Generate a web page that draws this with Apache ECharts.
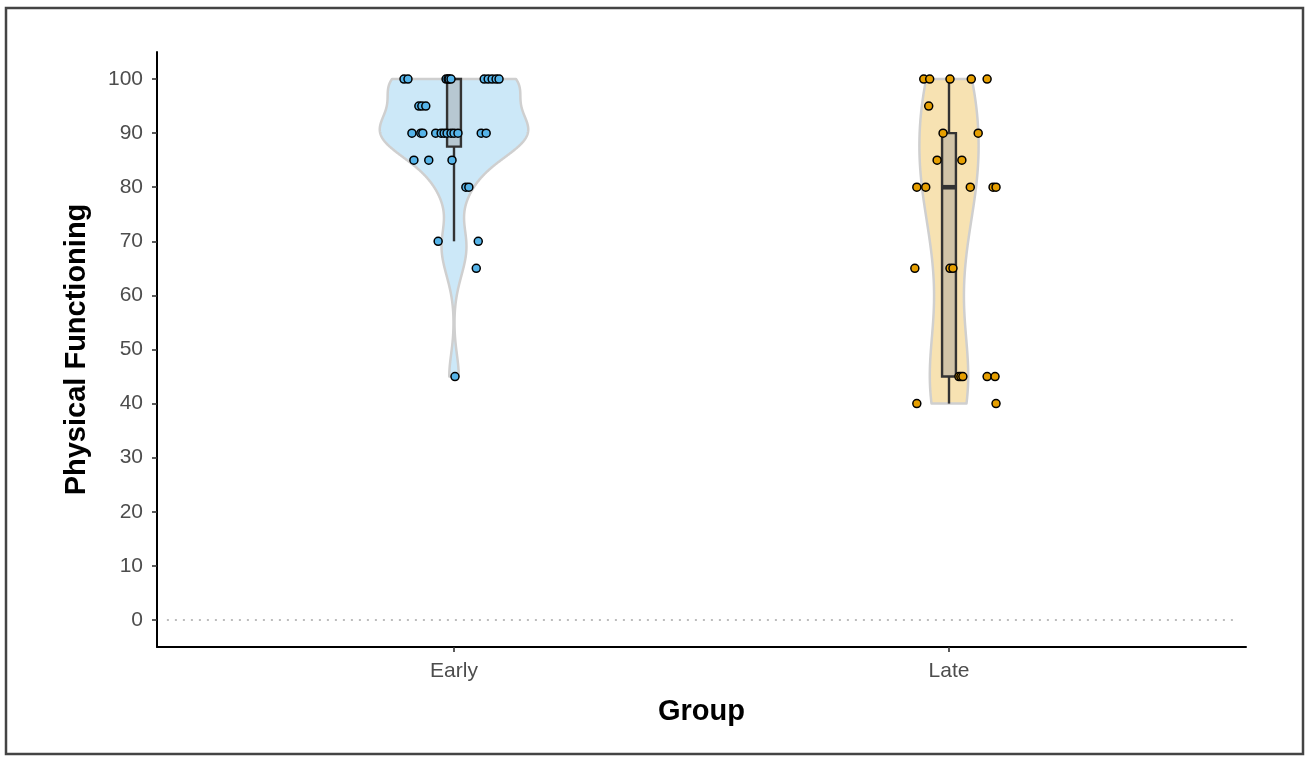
<!DOCTYPE html>
<html>
<head>
<meta charset="utf-8">
<title>Physical Functioning by Group</title>
<script src="https://cdn.jsdelivr.net/npm/echarts@6/dist/echarts.min.js"></script>
<style>
  html, body { margin: 0; padding: 0; background: #ffffff; }
  #chart { width: 1309px; height: 760px; }
</style>
</head>
<body>
<div id="chart"></div>
<script>
// ---- data ----
const categories = ['Early', 'Late'];

// Physical Functioning scores per patient, with the horizontal jitter used to spread the dots
const earlyValues = [
  100, 100, 100, 100, 100, 100, 100, 100, 100, 100, 100,
  95, 95, 95,
  90, 90, 90, 90, 90, 90, 90, 90, 90, 90, 90, 90,
  85, 85, 85,
  80, 80,
  70, 70,
  65,
  45
];
const earlyJitter = [
  -0.101, -0.093, -0.016, -0.012, -0.010, -0.006, 0.061, 0.069, 0.077, 0.085, 0.091,
  -0.071, -0.065, -0.057,
  -0.085, -0.067, -0.063, -0.037, -0.026, -0.020, -0.014, -0.006, 0.000, 0.008, 0.055, 0.065,
  -0.081, -0.051, -0.004,
  0.024, 0.030,
  -0.032, 0.049,
  0.045,
  0.002
];
const lateValues = [
  100, 100, 100, 100, 100,
  95,
  90, 90,
  85, 85,
  80, 80, 80, 80, 80,
  65, 65, 65,
  45, 45, 45, 45, 45,
  40, 40
];
const lateJitter = [
  -0.051, -0.039, 0.002, 0.045, 0.077,
  -0.041,
  -0.012, 0.059,
  -0.024, 0.026,
  -0.065, -0.047, 0.043, 0.089, 0.095,
  -0.069, 0.002, 0.008,
  0.020, 0.024, 0.028, 0.077, 0.093,
  -0.065, 0.095
];
const yTicks = [0, 10, 20, 30, 40, 50, 60, 70, 80, 90, 100];
const referenceLine = 0;

// ---- styling ----
const pointColors = ['#56B4E9', '#E69F00'];
const violinFills = ['rgba(86,180,233,0.3)', 'rgba(230,159,0,0.3)'];
const VIOLIN_WIDTH = 0.3;   // full width of the widest violin, in category units
const BOX_WIDTH = 0.028;
const FONT = 'Liberation Sans';

// ---- statistics (type-7 quantiles, nrd0 bandwidth, gaussian kernel) ----
function quantile(sorted, p) {
  const h = (sorted.length - 1) * p;
  const lo = Math.floor(h), hi = Math.ceil(h);
  return sorted[lo] + (h - lo) * (sorted[hi] - sorted[lo]);
}
function boxStats(values) {
  const s = values.slice().sort((a, b) => a - b);
  const q1 = quantile(s, 0.25), med = quantile(s, 0.5), q3 = quantile(s, 0.75);
  const iqr = q3 - q1;
  const lowFence = q1 - 1.5 * iqr, highFence = q3 + 1.5 * iqr;
  const inside = s.filter(v => v >= lowFence && v <= highFence);
  return { low: inside[0], q1, med, q3, high: inside[inside.length - 1] };
}
function bandwidth(values) {
  const n = values.length;
  const mean = values.reduce((a, b) => a + b, 0) / n;
  const sd = Math.sqrt(values.reduce((a, v) => a + (v - mean) * (v - mean), 0) / (n - 1));
  const s = values.slice().sort((a, b) => a - b);
  const iqr = quantile(s, 0.75) - quantile(s, 0.25);
  let lo = Math.min(sd, iqr / 1.34);
  if (!(lo > 0)) lo = sd || Math.abs(s[0]) || 1;
  return 0.9 * lo * Math.pow(n, -0.2);
}
function density(values, steps) {
  const bw = bandwidth(values);
  const n = values.length;
  const min = Math.min(...values), max = Math.max(...values);
  const norm = 1 / (n * bw * Math.sqrt(2 * Math.PI));
  const out = [];
  for (let i = 0; i < steps; i++) {
    const y = min + (max - min) * i / (steps - 1);
    let d = 0;
    for (const v of values) { const z = (y - v) / bw; d += Math.exp(-0.5 * z * z); }
    out.push([y, d * norm]);
  }
  return out;
}

const groups = [earlyValues, lateValues];
const jitters = [earlyJitter, lateJitter];
const densities = groups.map(g => density(g, 512));
const maxDensity = Math.max(...densities.map(d => Math.max(...d.map(p => p[1]))));
const boxes = groups.map(boxStats);

// ---- chart ----
const chart = echarts.init(document.getElementById('chart'), null, { renderer: 'canvas' });

const violinSeries = {
  type: 'custom',
  name: 'violin',
  data: categories.map((c, i) => [i + 1]),
  renderItem: function (params, api) {
    const i = params.dataIndex;
    const cx = i + 1;
    const d = densities[i];
    const pts = [];
    for (const [y, v] of d) pts.push(api.coord([cx - v / maxDensity * VIOLIN_WIDTH / 2, y]));
    for (let k = d.length - 1; k >= 0; k--) {
      const [y, v] = d[k];
      pts.push(api.coord([cx + v / maxDensity * VIOLIN_WIDTH / 2, y]));
    }
    return {
      type: 'polygon',
      shape: { points: pts },
      style: { fill: violinFills[i], stroke: '#cfcfcf', lineWidth: 2.5, lineJoin: 'round' }
    };
  },
  z: 2,
  silent: true
};

const boxSeries = {
  type: 'custom',
  name: 'box',
  data: categories.map((c, i) => [i + 1]),
  renderItem: function (params, api) {
    const i = params.dataIndex;
    const cx = i + 1;
    const b = boxes[i];
    const hw = BOX_WIDTH / 2;
    const tl = api.coord([cx - hw, b.q3]);
    const br = api.coord([cx + hw, b.q1]);
    const top = api.coord([cx, b.high]);
    const bottom = api.coord([cx, b.low]);
    const mL = api.coord([cx - hw, b.med]);
    const mR = api.coord([cx + hw, b.med]);
    const lineStyle = { stroke: '#333333', lineWidth: 2.4 };
    return {
      type: 'group',
      children: [
        { type: 'line', shape: { x1: top[0], y1: top[1], x2: top[0], y2: tl[1] }, style: lineStyle },
        { type: 'line', shape: { x1: bottom[0], y1: br[1], x2: bottom[0], y2: bottom[1] }, style: lineStyle },
        { type: 'rect', shape: { x: tl[0], y: tl[1], width: br[0] - tl[0], height: br[1] - tl[1] },
          style: { fill: 'rgba(153,153,153,0.4)', stroke: '#333333', lineWidth: 2.4 } },
        { type: 'line', shape: { x1: mL[0], y1: mL[1], x2: mR[0], y2: mR[1] },
          style: { stroke: '#333333', lineWidth: 4.6 } }
      ]
    };
  },
  z: 3,
  silent: true
};

const pointSeries = groups.map((g, i) => ({
  type: 'scatter',
  name: categories[i],
  data: g.map((v, k) => [i + 1 + jitters[i][k], v]),
  symbol: 'circle',
  symbolSize: 8,
  itemStyle: { color: pointColors[i], borderColor: '#000000', borderWidth: 1.5, opacity: 1 },
  z: 4,
  silent: true
}));

const zeroLine = {
  type: 'line',
  name: 'reference',
  data: [[0.42, referenceLine], [2.58, referenceLine]],
  symbol: 'none',
  lineStyle: { color: '#bdbdbd', width: 2, type: [2, 6] },
  z: 1,
  silent: true
};

const option = {
  animation: false,
  backgroundColor: '#ffffff',
  grid: { left: 157, right: 63, top: 52, bottom: 113, containLabel: false },
  xAxis: {
    type: 'value',
    min: 0.4,
    max: 2.6,
    name: 'Group',
    nameLocation: 'middle',
    nameGap: 50,
    nameTextStyle: { fontFamily: FONT, fontWeight: 'bold', fontSize: 29, color: '#000000' },
    axisLine: { show: true, onZero: false, lineStyle: { color: '#000000', width: 2 } },
    axisTick: { show: true, length: 5, customValues: [1, 2], lineStyle: { color: '#333333', width: 1.6 } },
    axisLabel: {
      customValues: [1, 2],
      formatter: v => categories[Math.round(v) - 1] || '',
      margin: 14,
      fontFamily: FONT,
      fontSize: 21,
      color: '#4d4d4d'
    },
    splitLine: { show: false }
  },
  yAxis: {
    type: 'value',
    min: -5,
    max: 105,
    name: 'Physical Functioning',
    nameLocation: 'middle',
    nameGap: 66,
    nameTextStyle: { fontFamily: FONT, fontWeight: 'bold', fontSize: 29, color: '#000000' },
    axisLine: { show: true, onZero: false, lineStyle: { color: '#000000', width: 2 } },
    axisTick: { show: true, length: 5, customValues: yTicks, lineStyle: { color: '#333333', width: 1.6 } },
    axisLabel: {
      customValues: yTicks,
      margin: 14,
      fontFamily: FONT,
      fontSize: 21,
      color: '#4d4d4d'
    },
    splitLine: { show: false }
  },
  graphic: [{
    type: 'rect',
    shape: { x: 6, y: 8, width: 1297, height: 746 },
    style: { fill: null, stroke: '#444444', lineWidth: 2.5 },
    silent: true,
    z: 100
  }],
  series: [zeroLine, violinSeries, boxSeries, ...pointSeries]
};

chart.setOption(option);
</script>
</body>
</html>
